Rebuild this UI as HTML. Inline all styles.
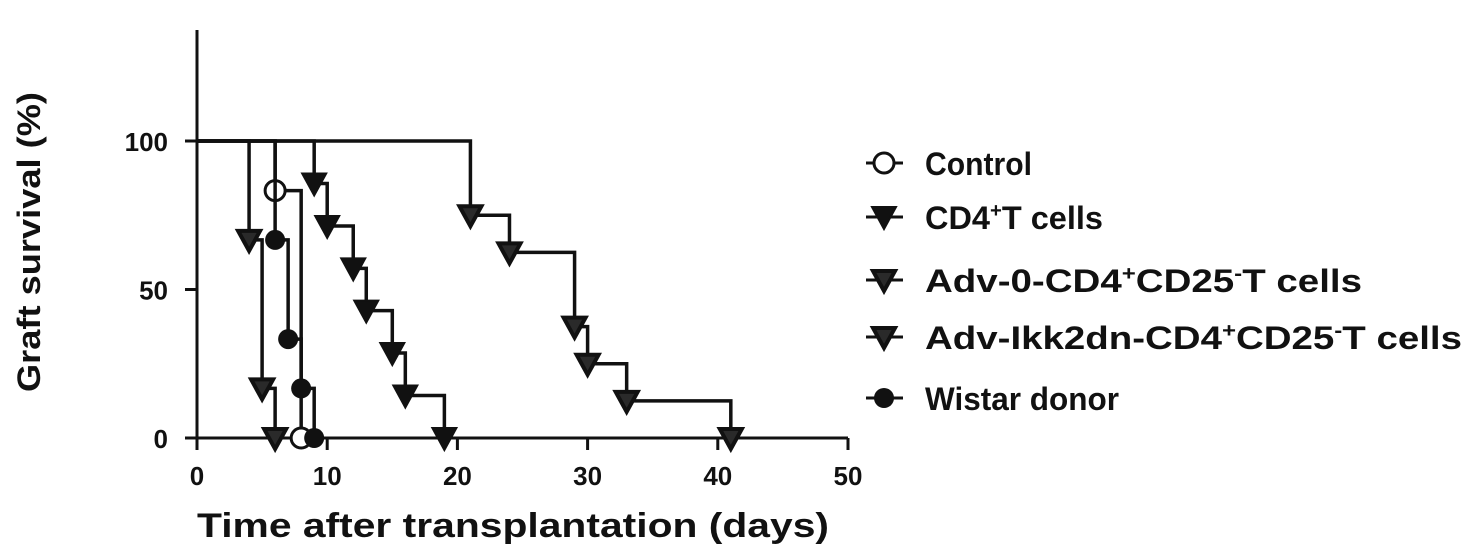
<!DOCTYPE html>
<html><head><meta charset="utf-8"><style>
html,body{margin:0;padding:0;background:#fff;}
svg{display:block;}
text{font-family:"Liberation Sans",Arial,sans-serif;font-weight:bold;fill:#111;}
</style></head><body>
<svg id="chart" width="1465" height="558" viewBox="0 0 1465 558" xmlns="http://www.w3.org/2000/svg">
<g id="axes"></g>
<g id="series"></g>
<g id="legend"></g>
<text x="513" y="537" font-size="34" text-anchor="middle" textLength="632" lengthAdjust="spacingAndGlyphs">Time after transplantation (days)</text>
<text transform="translate(40,242) rotate(-90)" font-size="32" text-anchor="middle" textLength="300" lengthAdjust="spacingAndGlyphs">Graft survival (%)</text>
</svg>
<script>
const xTicks = [0, 10, 20, 30, 40, 50];
const yTicks = [0, 50, 100];
const seriesNames = ["Control", "CD4+T cells", "Adv-0-CD4+CD25-T cells", "Adv-Ikk2dn-CD4+CD25-T cells", "Wistar donor"];
const controlTimes = [6, 8];
const controlSurv = [83.3, 0];
const cd4Times = [9, 10, 12, 13, 15, 16, 19];
const cd4Surv = [85.7, 71.4, 57.1, 42.9, 28.6, 14.3, 0];
const adv0Times = [4, 5, 6];
const adv0Surv = [66.7, 16.7, 0];
const ikkTimes = [21, 24, 29, 30, 33, 41];
const ikkSurv = [75, 62.5, 37.5, 25, 12.5, 0];
const wistarTimes = [6, 7, 8, 9];
const wistarSurv = [66.7, 33.3, 16.7, 0];

const NS = "http://www.w3.org/2000/svg";
const X0 = 197, XS = 13.02, Y0 = 438, YS = 2.97;
const xs = d => X0 + d * XS;
const ys = v => Y0 - v * YS;
function mk(tag, attrs, parent){ const e = document.createElementNS(NS, tag); for (const k in attrs) e.setAttribute(k, attrs[k]); parent.appendChild(e); return e; }

const axes = document.getElementById('axes');
let yAxis = mk('line', {x1: X0, y1: 30, x2: X0, y2: Y0, stroke: '#111', 'stroke-width': 3}, axes);


let xAxis = mk('line', {x1: 185, y1: Y0, x2: xs(50), y2: Y0, stroke: '#111', 'stroke-width': 3}, axes);


xTicks.forEach(t => {
  let l = mk('line', {x1: xs(t), y1: Y0, x2: xs(t), y2: Y0 + 12, stroke: '#111', 'stroke-width': 3}, axes);
  
  
  let tx = mk('text', {x: xs(t), y: 485, 'font-size': 26, 'text-anchor': 'middle'}, axes);
  tx.textContent = t;
  
  
});
yTicks.forEach(t => {
  let l = mk('line', {x1: 185, y1: ys(t), x2: X0, y2: ys(t), stroke: '#111', 'stroke-width': 3}, axes);
  
  
  let tx = mk('text', {x: 168, y: ys(t) + 10, 'font-size': 26, 'text-anchor': 'end'}, axes);
  tx.textContent = t;
  
  
});

function marker(type, cx, cy, parent){
  let e;
  if (type === 'circleOpen') e = mk('circle', {cx, cy, r: 10, fill: '#fff', stroke: '#111', 'stroke-width': 3}, parent);
  else if (type === 'circleFill') e = mk('circle', {cx, cy, r: 10, fill: '#111'}, parent);
  else if (type === 'triFill') e = mk('polygon', {points: `${cx-12},${cy-10} ${cx+12},${cy-10} ${cx},${cy+12}`, fill: '#111', stroke: '#111', 'stroke-width': 2}, parent);
  else e = mk('polygon', {points: `${cx-11},${cy-9} ${cx+11},${cy-9} ${cx},${cy+11}`, fill: '#2a2a2a', stroke: '#111', 'stroke-width': 4}, parent);
  return e;
}

const seriesDefs = [
  [controlTimes, controlSurv, 'circleOpen', 'control'],
  [cd4Times, cd4Surv, 'triFill', 'cd4-t-cells'],
  [adv0Times, adv0Surv, 'triOpen', 'adv-0'],
  [ikkTimes, ikkSurv, 'triOpen', 'adv-ikk2dn'],
  [wistarTimes, wistarSurv, 'circleFill', 'wistar-donor']
];
const sg = document.getElementById('series');
seriesDefs.forEach(([T, S, m, name]) => {
  let g = mk('g', {}, sg);
  
  
  let d = `M${X0},${ys(100)}`;
  T.forEach((t, i) => { d += ` H${xs(t)} V${ys(S[i])}`; });
  let p = mk('path', {d, fill: 'none', stroke: '#111', 'stroke-width': 3.5}, g);
  
  
  T.forEach((t, i) => {
    let e = marker(m, xs(t), ys(S[i]), g);
    
    
  });
});

const lg = document.getElementById('legend');
const legY = [163, 217, 280, 337, 398];
const legM = ['circleOpen', 'triFill', 'triOpen', 'triOpen', 'circleFill'];
const legLabels = [
  'Control',
  'CD4<tspan dy="-12" font-size="20">+</tspan><tspan dy="12">T cells</tspan>',
  'Adv-0-CD4<tspan dy="-12" font-size="20">+</tspan><tspan dy="12">CD25</tspan><tspan dy="-12" font-size="20">-</tspan><tspan dy="12">T cells</tspan>',
  'Adv-Ikk2dn-CD4<tspan dy="-12" font-size="20">+</tspan><tspan dy="12">CD25</tspan><tspan dy="-12" font-size="20">-</tspan><tspan dy="12">T cells</tspan>',
  'Wistar donor'
];
const legW = [107, 178, 437, 537, 194];
legY.forEach((y, i) => {
  let g = mk('g', {}, lg);
  
  
  mk('line', {x1: 866, y1: y, x2: 903, y2: y, stroke: '#111', 'stroke-width': 3}, g);
  marker(legM[i], 884, y, g);
  let t = mk('text', {x: 925, y: y + 12, 'font-size': 32, textLength: legW[i], lengthAdjust: 'spacingAndGlyphs'}, g);
  t.innerHTML = legLabels[i];
  
  
});
</script>
</body></html>
